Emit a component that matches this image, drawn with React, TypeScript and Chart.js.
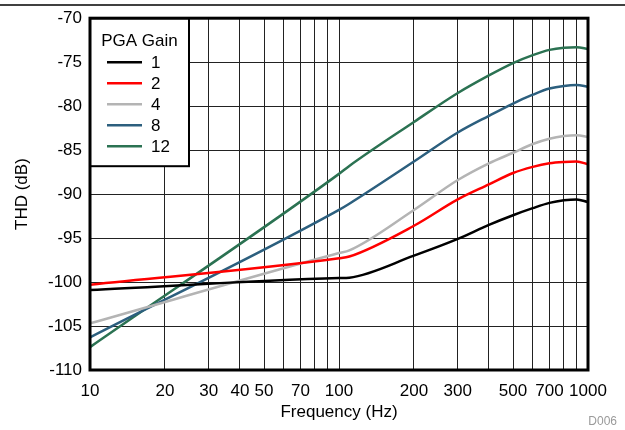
import React, { useEffect, useRef } from 'react';
import { Chart, registerables } from 'chart.js';

Chart.register(...registerables);

const freqs = [10, 100, 110, 200, 300, 400, 500, 600, 700, 800, 900, 1000];
const gain1 = [-100.9, -99.55, -99.5, -97.0, -95.1, -93.5, -92.4, -91.6, -91.0, -90.7, -90.6, -90.9];
const gain2 = [-100.3, -97.3, -97.1, -93.6, -90.6, -88.9, -87.6, -86.9, -86.5, -86.35, -86.3, -86.6];
const gain4 = [-104.7, -96.7, -96.4, -91.8, -88.4, -86.5, -85.3, -84.3, -83.7, -83.4, -83.3, -83.5];
const gain8 = [-106.3, -91.8, -91.1, -86.3, -83.0, -81.1, -79.7, -78.7, -78.0, -77.7, -77.6, -77.8];
const gain12 = [-107.4, -87.7, -86.8, -81.8, -78.5, -76.5, -75.1, -74.2, -73.6, -73.35, -73.3, -73.5];

const seriesValues = [gain1, gain2, gain4, gain8, gain12];
const seriesLabels = ['1', '2', '4', '8', '12'];
const seriesColors = ['#000000', '#ff0000', '#b4b4b4', '#2c5f7e', '#2b7252'];

const xGrid = [10, 20, 30, 40, 50, 60, 70, 80, 90, 100, 200, 300, 400, 500, 600, 700, 800, 900, 1000];
const xLabels = [10, 20, 30, 40, 50, 70, 100, 200, 300, 500, 700, 1000];
const yTicks = [-110, -105, -100, -95, -90, -85, -80, -75, -70];

const legendTitle = 'PGA Gain';
const xTitle = 'Frequency (Hz)';
const yTitle = 'THD (dB)';
const footNote = 'D006';

const FONT = '"Liberation Sans", Arial, Helvetica, sans-serif';

const overlayPlugin = {
  id: 'overlay',
  afterDraw(chart: any) {
    const { ctx, chartArea } = chart;
    const { left, top, right, bottom } = chartArea;
    ctx.save();
    // top rule
    ctx.strokeStyle = '#000';
    ctx.lineWidth = 1.5;
    ctx.beginPath();
    ctx.moveTo(0, 5);
    ctx.lineTo(chart.width, 5);
    ctx.stroke();

    // legend box
    const lx = left;
    const ly = top;
    const lw = 99;
    const lh = 148;
    ctx.fillStyle = '#fff';
    ctx.fillRect(lx, ly, lw, lh);
    ctx.strokeStyle = '#000';
    ctx.lineWidth = 2;
    ctx.strokeRect(lx, ly, lw, lh);
    ctx.fillStyle = '#000';
    ctx.font = `17px ${FONT}`;
    ctx.textAlign = 'center';
    ctx.textBaseline = 'middle';
    ctx.fillText(legendTitle, lx + lw / 2, ly + 23);
    ctx.textAlign = 'left';
    seriesLabels.forEach((lab, i) => {
      const yy = ly + 44 + i * 21;
      ctx.strokeStyle = seriesColors[i];
      ctx.lineWidth = 2.5;
      ctx.beginPath();
      ctx.moveTo(lx + 17, yy);
      ctx.lineTo(lx + 52, yy);
      ctx.stroke();
      ctx.fillStyle = '#000';
      ctx.fillText(lab, lx + 61, yy + 1);
    });

    // frame
    ctx.strokeStyle = '#000';
    ctx.lineWidth = 3;
    ctx.strokeRect(left, top, right - left, bottom - top);

    // footnote
    ctx.fillStyle = '#9a9a9a';
    ctx.font = `12px ${FONT}`;
    ctx.textAlign = 'right';
    ctx.textBaseline = 'middle';
    ctx.fillText(footNote, chart.width - 8, 422);
    ctx.restore();
  },
};

export default function App() {
  const ref = useRef<HTMLCanvasElement | null>(null);
  useEffect(() => {
    document.body.style.margin = '0';
    const canvas = ref.current;
    if (!canvas) return;
    const chart = new Chart(canvas, {
      type: 'line',
      data: {
        datasets: seriesValues.map((vals, i) => ({
          label: seriesLabels[i],
          data: freqs.map((f, j) => ({ x: f, y: vals[j] })),
          borderColor: seriesColors[i],
          backgroundColor: seriesColors[i],
          borderWidth: 2.5,
          pointRadius: 0,
          cubicInterpolationMode: 'monotone' as const,
        })),
      },
      options: {
        animation: false,
        responsive: false,
        devicePixelRatio: 1,
        layout: { padding: { top: 18, right: 37, left: 0, bottom: 0 } },
        plugins: { legend: { display: false }, tooltip: { enabled: false } },
        scales: {
          x: {
            type: 'logarithmic',
            min: 10,
            max: 1000,
            afterBuildTicks: (scale: any) => {
              scale.ticks = xGrid.map((v) => ({ value: v }));
            },
            afterFit: (scale: any) => {
              scale.height = 60;
            },
            ticks: {
              autoSkip: false,
              maxRotation: 0,
              padding: 11,
              color: '#000',
              font: { family: FONT, size: 17 },
              callback: (v: any) => (xLabels.includes(Number(v)) ? String(v) : ''),
            },
            grid: { color: '#222', lineWidth: 1, drawTicks: false },
            border: { display: false },
            title: {
              display: true,
              text: xTitle,
              color: '#000',
              font: { family: FONT, size: 17 },
              padding: { top: 0, bottom: 7 },
            },
          },
          y: {
            type: 'linear',
            min: -110,
            max: -70,
            afterBuildTicks: (scale: any) => {
              scale.ticks = yTicks.map((v) => ({ value: v }));
            },
            afterFit: (scale: any) => {
              scale.width = 90;
            },
            ticks: {
              padding: 8,
              color: '#000',
              font: { family: FONT, size: 17 },
            },
            grid: { color: '#222', lineWidth: 1, drawTicks: false },
            border: { display: false },
            title: {
              display: true,
              text: yTitle,
              color: '#000',
              font: { family: FONT, size: 17 },
              padding: { top: 12, bottom: 0 },
            },
          },
        },
      },
      plugins: [overlayPlugin],
    });
    return () => chart.destroy();
  }, []);
  return (
    <div style={{ position: 'absolute', left: 0, top: 0, width: 625, height: 430, background: '#fff' }}>
      <canvas ref={ref} width={625} height={430} />
    </div>
  );
}
